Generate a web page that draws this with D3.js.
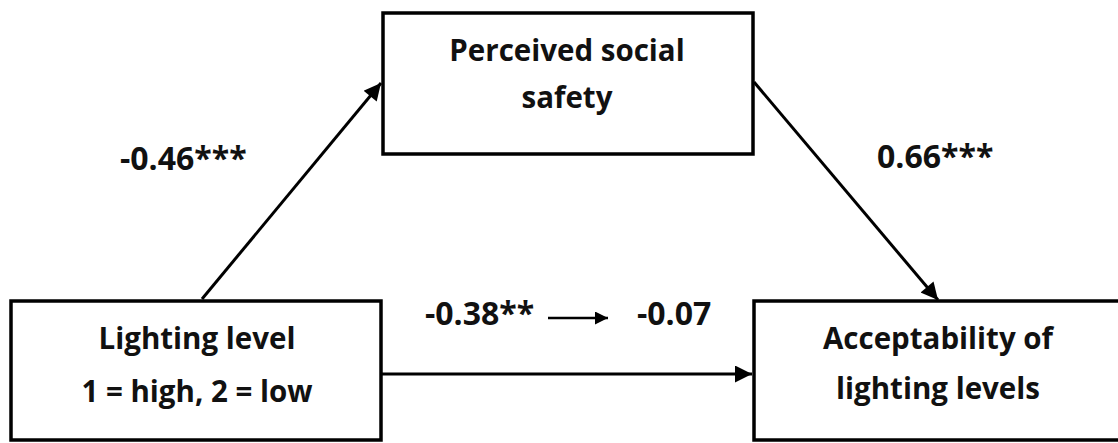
<!DOCTYPE html>
<html>
<head>
<meta charset="utf-8">
<script src="https://cdn.jsdelivr.net/npm/d3@7"></script>
<style>
  body { margin: 0; background: #fff; }
  svg { display: block; }
  text { font-family: 'Open Sans', Lato, sans-serif; font-weight: bold; fill: #111; }
</style>
</head>
<body>
<script>
// variables in the mediation model
const nodeIds = ['x', 'm', 'y'];
const nodeLabels = [
  ['Lighting level', '1 = high, 2 = low'],
  ['Perceived social', 'safety'],
  ['Acceptability of', 'lighting levels'],
];

// path coefficients
const pathIds = ['a', 'b', 'c'];
const pathLabels = ['-0.46***', '0.66***', '-0.38**'];
const directAfter = '-0.07';

const w = 1118;
const h = 443;

// layout (pixel boxes)
const boxes = {
  x: { x0: 11, y0: 301, x1: 381, y1: 440 },
  m: { x0: 383, y0: 13, x1: 753, y1: 154 },
  y: { x0: 754, y0: 301, x1: 1124, y1: 440 },
};

const svg = d3.select('body').append('svg').attr('width', w).attr('height', h);

const defs = svg.append('defs');
[['head', 21, 17], ['small', 16, 13]].forEach(([id, mw, mh]) => {
  defs
    .append('marker')
    .attr('id', id)
    .attr('viewBox', '0 0 10 10')
    .attr('refX', 10)
    .attr('refY', 5)
    .attr('markerWidth', mw)
    .attr('markerHeight', mh)
    .attr('markerUnits', 'userSpaceOnUse')
    .attr('orient', 'auto')
    .append('path')
    .attr('d', 'M0,0 L10,5 L0,10 Z')
    .attr('fill', '#000');
});

// boxes
const nodes = nodeIds.map((id, i) => ({ id, lines: nodeLabels[i], ...boxes[id] }));

svg
  .selectAll('.box')
  .data(nodes)
  .enter()
  .append('rect')
  .attr('class', 'box')
  .attr('x', (d) => d.x0)
  .attr('y', (d) => d.y0)
  .attr('width', (d) => d.x1 - d.x0)
  .attr('height', (d) => d.y1 - d.y0)
  .attr('fill', 'white')
  .attr('stroke', '#000')
  .attr('stroke-width', 3.5);

// label centre and baselines for each box
const labelPos = {
  x: { cx: 197, y: [349, 402] },
  m: { cx: 567, y: [61, 108] },
  y: { cx: 938, y: [349, 399] },
};

nodes.forEach((n) => {
  svg
    .selectAll(null)
    .data(n.lines)
    .enter()
    .append('text')
    .attr('x', labelPos[n.id].cx)
    .attr('y', (d, i) => labelPos[n.id].y[i])
    .attr('text-anchor', 'middle')
    .style('font-size', '29.5px')
    .text((d) => d);
});

// arrows
const arrowPts = {
  a: [[202, 299], [381, 83]],
  b: [[754, 82], [938, 300]],
  c: [[381, 374], [752, 374]],
};

const line = d3.line();

svg
  .selectAll('.path')
  .data(pathIds)
  .enter()
  .append('path')
  .attr('class', 'path')
  .attr('d', (d) => line(arrowPts[d]))
  .attr('stroke', '#000')
  .attr('stroke-width', 3)
  .attr('fill', 'none')
  .attr('marker-end', 'url(#head)');

// coefficient labels
const coefPos = {
  a: { x: 120, y: 170 },
  b: { x: 877, y: 168 },
  c: { x: 425, y: 325 },
};

svg
  .selectAll('.coef')
  .data(pathIds)
  .enter()
  .append('text')
  .attr('class', 'coef')
  .attr('x', (d) => coefPos[d].x)
  .attr('y', (d) => coefPos[d].y)
  .style('font-size', '32px')
  .text((d, i) => pathLabels[i]);

// small arrow: total effect -> direct effect
svg
  .append('path')
  .attr('d', line([[548, 318], [608, 318]]))
  .attr('stroke', '#000')
  .attr('stroke-width', 2.5)
  .attr('marker-end', 'url(#small)');

svg
  .append('text')
  .attr('x', 637)
  .attr('y', 325)
  .style('font-size', '32px')
  .text(directAfter);
</script>
</body>
</html>
